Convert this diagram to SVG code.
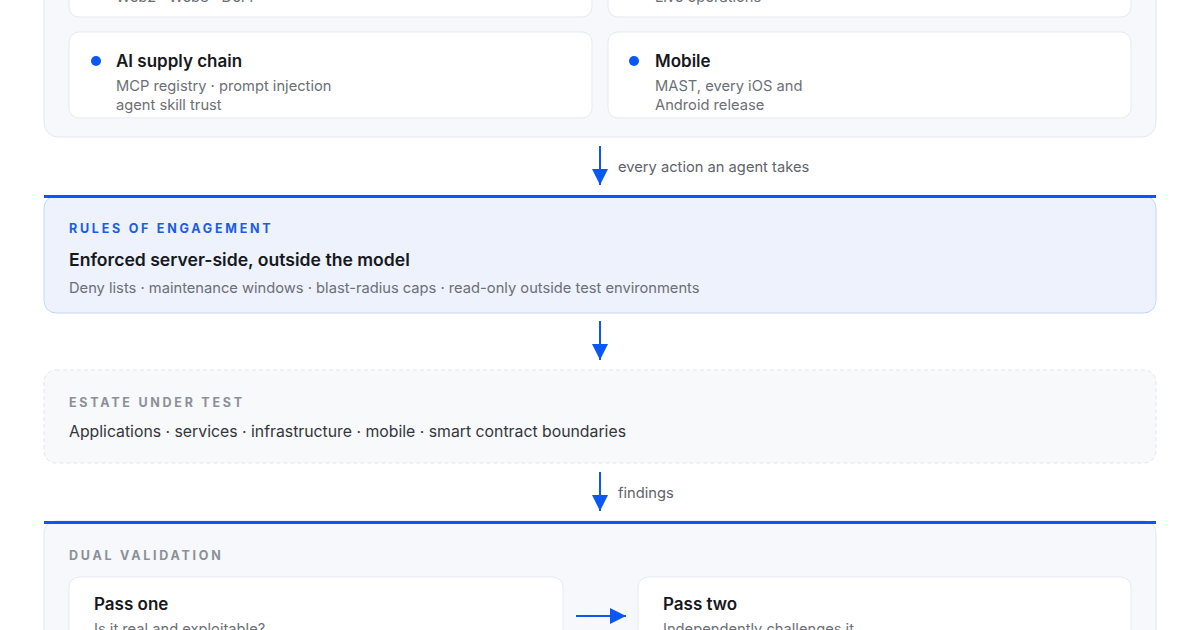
<svg xmlns="http://www.w3.org/2000/svg" width="1200" height="630" viewBox="0 0 1200 630">
<defs>
<style>
text{font-family:Inter,"Noto Sans","Liberation Sans",sans-serif}
.panel{fill:#f7f8fb;stroke:#e4e7ee;stroke-width:1}
.card{fill:#ffffff;stroke:#e6e9ef;stroke-width:1}
.title{font-size:17px;font-weight:600;fill:#16181d}
.sub{font-size:14.7px;fill:#6b6f76}
.eyebrow{font-size:12.5px;font-weight:700;letter-spacing:2.75px}
.dot{fill:#0b57f5}
.conn{stroke:#0b57f5;stroke-width:2;fill:none}
.clabel{font-size:14.7px;fill:#5f636a}
.topbar{stroke:#0b57f5;stroke-width:3}
</style>
<marker id="ah2" viewBox="0 0 10 10" refX="10" refY="5" markerWidth="16" markerHeight="16" markerUnits="userSpaceOnUse" orient="auto">
<path d="M0,0 L10,5 L0,10 z" fill="#0b57f5"/>
</marker>
</defs>
<rect width="1200" height="630" fill="#ffffff"/>

<g id="surfaces">
<rect class="panel" x="44" y="-40" width="1112" height="177" rx="14"/>
<g id="card-web">
<rect class="card" x="69" y="-60" width="523" height="77" rx="10"/>
<text class="sub" x="116" y="2">Web2 · Web3 · DeFi</text>
</g>
<g id="card-live">
<rect class="card" x="608" y="-60" width="523" height="77" rx="10"/>
<text class="sub" x="655" y="2">Live operations</text>
</g>
<g id="card-ai">
<rect class="card" x="69" y="32" width="523" height="86" rx="10"/>
<circle class="dot" cx="96" cy="61" r="5"/>
<text class="title" x="116" y="67">AI supply chain</text>
<text class="sub" x="116" y="91">MCP registry · prompt injection</text>
<text class="sub" x="116" y="110">agent skill trust</text>
</g>
<g id="card-mobile">
<rect class="card" x="608" y="32" width="523" height="86" rx="10"/>
<circle class="dot" cx="634" cy="61" r="5"/>
<text class="title" x="655" y="67">Mobile</text>
<text class="sub" x="655" y="91">MAST, every iOS and</text>
<text class="sub" x="655" y="110">Android release</text>
</g>
</g>

<g id="rules">
<rect x="44" y="196" width="1112" height="117" rx="12" fill="#edf2fd" stroke="#c5d6f6" stroke-width="1"/>
<line class="topbar" x1="44" y1="196.5" x2="1156" y2="196.5"/>
<text class="eyebrow" x="69" y="233" fill="#1a5ce6">RULES OF ENGAGEMENT</text>
<text x="69" y="266" font-size="17.6" font-weight="600" fill="#16181d">Enforced server-side, outside the model</text>
<text class="sub" x="69" y="293">Deny lists · maintenance windows · blast-radius caps · read-only outside test environments</text>
</g>

<g id="estate">
<rect x="44" y="370" width="1112" height="93" rx="12" fill="#f8f9fb" stroke="#e2e5eb" stroke-width="1" stroke-dasharray="4 3"/>
<text class="eyebrow" x="69" y="407" fill="#8b9098">ESTATE UNDER TEST</text>
<text x="69" y="437" font-size="15.8" fill="#33363b">Applications · services · infrastructure · mobile · smart contract boundaries</text>
</g>

<g id="dual">
<rect class="panel" x="44" y="521" width="1112" height="160" rx="12"/>
<line class="topbar" x1="44" y1="522.5" x2="1156" y2="522.5"/>
<text class="eyebrow" x="69" y="560" fill="#8b9098">DUAL VALIDATION</text>
<g id="pass-one">
<rect class="card" x="69" y="577" width="494" height="90" rx="10"/>
<text class="title" x="94" y="610">Pass one</text>
<text class="sub" x="94" y="634">Is it real and exploitable?</text>
</g>
<g id="pass-two">
<rect class="card" x="638" y="577" width="493" height="90" rx="10"/>
<text class="title" x="663" y="610">Pass two</text>
<text class="sub" x="663" y="634">Independently challenges it</text>
</g>
</g>

<g id="connectors">
<line class="conn" x1="600" y1="146" x2="600" y2="185" marker-end="url(#ah2)"/>
<text class="clabel" x="618" y="172">every action an agent takes</text>
<line class="conn" x1="600" y1="321" x2="600" y2="360" marker-end="url(#ah2)"/>
<line class="conn" x1="600" y1="472" x2="600" y2="511" marker-end="url(#ah2)"/>
<text class="clabel" x="618" y="498">findings</text>
<line class="conn" x1="576" y1="616" x2="626" y2="616" marker-end="url(#ah2)"/>
</g>
</svg>
